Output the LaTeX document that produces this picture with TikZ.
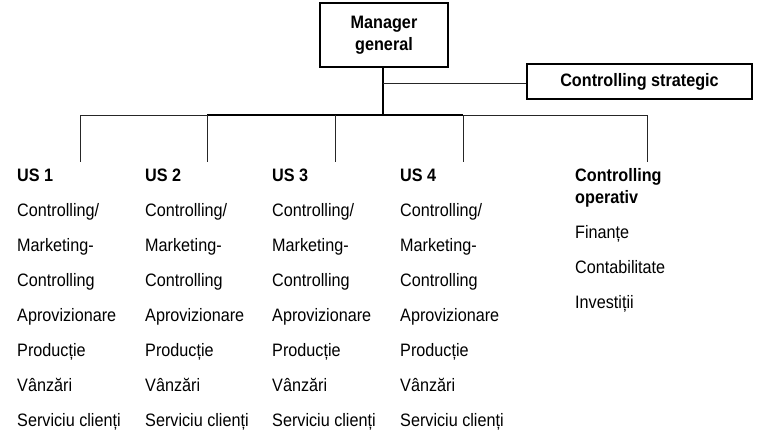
\documentclass[tikz,border=0pt]{standalone}
\usepackage{fontspec}
\setmainfont{Liberation Sans}[FakeStretch=0.9]
\begin{document}
\begin{tikzpicture}[x=1pt,y=-1pt,
  thin line/.style={line width=1pt,black!85},
  thick line/.style={line width=1.7pt,black},
  boxnode/.style={draw,line width=1.2pt,inner sep=0pt,font=\fontsize{18}{22}\selectfont\bfseries,align=center},
  txt/.style={inner sep=0pt,anchor=base west,font=\fontsize{18}{20}\selectfont},
  hdr/.style={txt,font=\fontsize{18}{20}\selectfont\bfseries}]
\useasboundingbox (0,0) rectangle (763,439);
% boxes
\node[boxnode,minimum width=128pt,minimum height=64pt] (mg) at (384,35) {Manager\\general};
\node[boxnode,minimum width=225pt,minimum height=35pt] (cs) at (639.5,81.5) {Controlling strategic};
% coordinates
\coordinate (hub) at (383,115);
\coordinate (j) at (383,83);
\foreach \i/\x in {1/80,2/207,3/335,4/463,5/647}{
  \coordinate (b\i) at (\x,115);
  \coordinate (d\i) at (\x,162);
}
% columns
\foreach \i/\x in {1/17,2/145,3/272,4/400}{
  \node[hdr] (u\i h) at (\x,181.5) {US \i};
  \foreach \t [count=\k] in {Controlling/,Marketing-,Controlling,Aprovizionare,Producție,Vânzări,Serviciu clienți}{
    \node[txt] (u\i r\k) at (\x,181.5+35*\k) {\t};
  }
}
\node[hdr] (co1) at (575,181.5) {Controlling};
\node[hdr] (co2) at (575,203) {operativ};
\node[txt] (co3) at (575,238.5) {Finanțe};
\node[txt] (co4) at (575,273.5) {Contabilitate};
\node[txt] (co5) at (575,308.5) {Investiții};
% connectors
\draw[thick line] (mg.south -| hub) -- (hub);
\draw[thin line] (j) -- (j -| cs.west);
\draw[thin line] (b1) -- (b2);
\draw[thick line] (b2) -- (b4);
\draw[thin line] (b4) -- (b5);
\foreach \i in {1,...,5}{
  \draw[thin line] (b\i) -- (d\i);
}
\end{tikzpicture}
\end{document}
